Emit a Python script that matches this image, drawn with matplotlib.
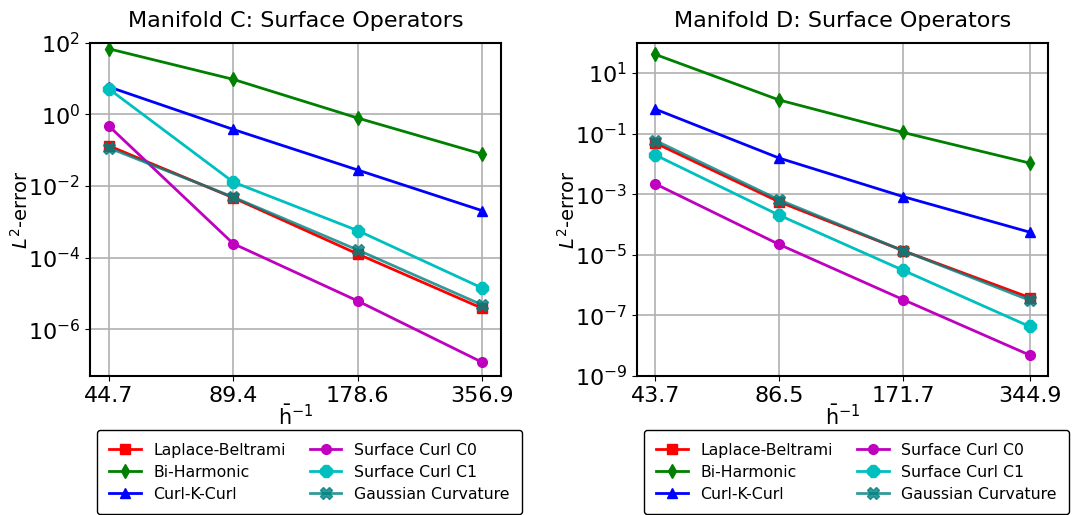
import matplotlib
matplotlib.use("Agg")
import matplotlib.pyplot as plt
from matplotlib.ticker import NullLocator, FixedLocator, FixedFormatter

# mesh resolutions (inverse mean mesh size)
h_inv_c = [44.7, 89.4, 178.6, 356.9]
h_inv_d = [43.7, 86.5, 171.7, 344.9]

# Manifold C errors
lb_c = [0.134, 4.7e-3, 1.27e-4, 3.86e-6]
bh_c = [68.0, 9.5, 0.79, 0.078]
ckc_c = [5.9, 0.38, 0.028, 2.05e-3]
sc0_c = [0.48, 2.46e-4, 6.2e-6, 1.2e-7]
sc1_c = [5.2, 0.0129, 5.7e-4, 1.42e-5]
gc_c = [0.117, 4.9e-3, 1.64e-4, 4.8e-6]

# Manifold D errors
lb_d = [0.0486, 5.6e-4, 1.36e-5, 3.87e-7]
bh_d = [41.0, 1.29, 0.109, 0.0107]
ckc_d = [0.64, 0.0156, 8.3e-4, 5.6e-5]
sc0_d = [2.18e-3, 2.2e-5, 3.3e-7, 4.9e-9]
sc1_d = [0.0196, 2.03e-4, 3.07e-6, 4.3e-8]
gc_d = [0.059, 6.5e-4, 1.36e-5, 3.16e-7]

labels = ["Laplace-Beltrami", "Bi-Harmonic", "Curl-K-Curl",
          "Surface Curl C0", "Surface Curl C1", "Gaussian Curvature"]
styles = [
    dict(color="red", marker="s", ms=7),
    dict(color="green", marker="d", ms=7),
    dict(color="blue", marker="^", ms=7),
    dict(color="m", marker="o", ms=7),
    dict(color="c", marker="8", ms=9),
    dict(color="teal", marker="X", ms=9, alpha=0.8),
]


def draw(ax, x, series, title, ylim):
    for y, lab, st in zip(series, labels, styles):
        ax.plot(x, y, label=lab, lw=2, **st)
    ax.set_xscale("log")
    ax.set_yscale("log")
    ax.xaxis.set_major_locator(FixedLocator(x))
    ax.xaxis.set_major_formatter(FixedFormatter([f"{v:.1f}" for v in x]))
    ax.xaxis.set_minor_locator(NullLocator())
    ax.yaxis.set_minor_locator(NullLocator())
    ax.set_ylim(*ylim)
    ax.grid(True, color="#b0b0b0", lw=1.2)
    ax.tick_params(labelsize=16)
    ax.set_title(title, fontsize=16, pad=11)
    ax.set_xlabel(r"$\bar{\mathrm{h}}^{\mathrm{-1}}$", fontsize=15, labelpad=-1)
    ax.set_ylabel(r"$L^2$-error", fontsize=14, labelpad=-3)
    for sp in ax.spines.values():
        sp.set_linewidth(1.5)
    ax.legend(loc="upper center", bbox_to_anchor=(0.534, -0.139), ncol=2,
              fontsize=11.3, frameon=True, edgecolor="black", framealpha=1,
              handlelength=2.0, columnspacing=1.55, borderpad=0.8,
              labelspacing=0.45)


fig = plt.figure(figsize=(10.89, 5.15), dpi=100)
ax1 = fig.add_axes([0.0826, 0.270, 0.3774, 0.647])
ax2 = fig.add_axes([0.5847, 0.270, 0.3779, 0.647])

draw(ax1, h_inv_c, [lb_c, bh_c, ckc_c, sc0_c, sc1_c, gc_c],
     "Manifold C: Surface Operators", (5e-8, 1e2))
draw(ax2, h_inv_d, [lb_d, bh_d, ckc_d, sc0_d, sc1_d, gc_d],
     "Manifold D: Surface Operators", (1e-9, 1e2))

fig.savefig("out.png", dpi=100)
